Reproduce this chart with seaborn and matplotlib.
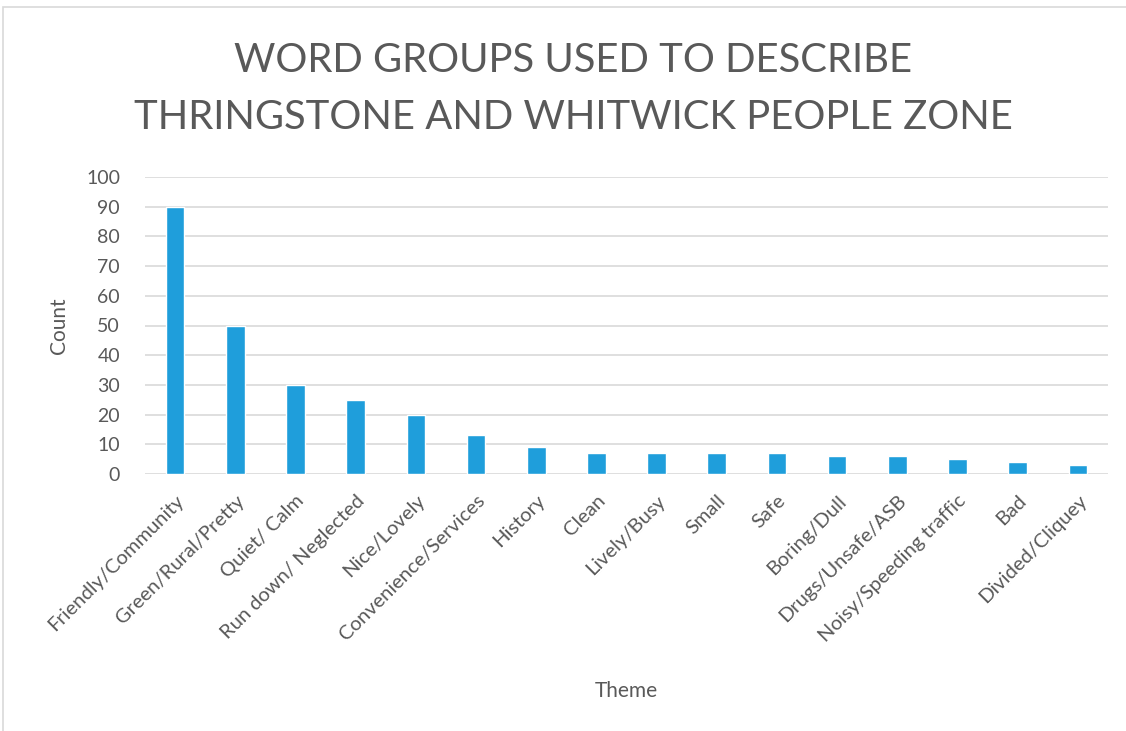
import matplotlib
matplotlib.use("Agg")
import matplotlib.pyplot as plt
import seaborn as sns
import pandas as pd
from matplotlib.patches import Rectangle

themes = [
    "Friendly/Community", "Green/Rural/Pretty", "Quiet/ Calm", "Run down/ Neglected",
    "Nice/Lovely", "Convenience/Services", "History", "Clean", "Lively/Busy",
    "Small", "Safe", "Boring/Dull", "Drugs/Unsafe/ASB", "Noisy/Speeding traffic",
    "Bad", "Divided/Cliquey",
]
counts = [90, 50, 30, 25, 20, 13, 9, 7, 7, 7, 7, 6, 6, 5, 4, 3]
y_ticks = list(range(0, 101, 10))
title = "WORD GROUPS USED TO DESCRIBE\nTHRINGSTONE AND WHITWICK PEOPLE ZONE"

df = pd.DataFrame({"Theme": themes, "Count": counts})

sns.set_theme(style="white")
plt.rcParams["font.family"] = ["Lato", "DejaVu Sans"]
text_color = "#595959"
bar_color = "#1F9EDB"

fig = plt.figure(figsize=(11.26, 7.31), dpi=100)
ax = fig.add_axes([145 / 1126, 1 - 474 / 731, (1108 - 145) / 1126, (474 - 177) / 731])

sns.barplot(data=df, x="Theme", y="Count", color=bar_color, width=0.31,
            saturation=1, ax=ax, zorder=3)

ax.set_ylim(0, 100)
ax.set_xlim(-0.5, len(themes) - 0.5)
ax.set_yticks(y_ticks)
ax.yaxis.grid(True, color="#D9D9D9", linewidth=1.2, zorder=0)
ax.set_axisbelow(True)
for s in ax.spines.values():
    s.set_visible(False)
ax.tick_params(axis="both", length=0, colors=text_color)
ax.tick_params(axis="y", pad=18, labelsize=14)
ax.tick_params(axis="x", pad=13, labelsize=14.5)
plt.setp(ax.get_xticklabels(), rotation=45, ha="right", rotation_mode="anchor")

ax.set_ylabel("Count", fontsize=15, color=text_color, labelpad=12)
ax.set_xlabel("Theme", fontsize=15, color=text_color, labelpad=26)

fig.text(573 / 1126, 1 - 89 / 731, title, ha="center", va="center",
         fontsize=28.8, color=text_color, linespacing=1.68)

# light chart-area frame
fig.patches.append(Rectangle((3 / 1126, -0.05), 1.1, 1 - 7 / 731 + 0.05,
                             transform=fig.transFigure, fill=False,
                             edgecolor="#D9D9D9", linewidth=1.2))

fig.savefig("out.png", dpi=100, facecolor="white")
